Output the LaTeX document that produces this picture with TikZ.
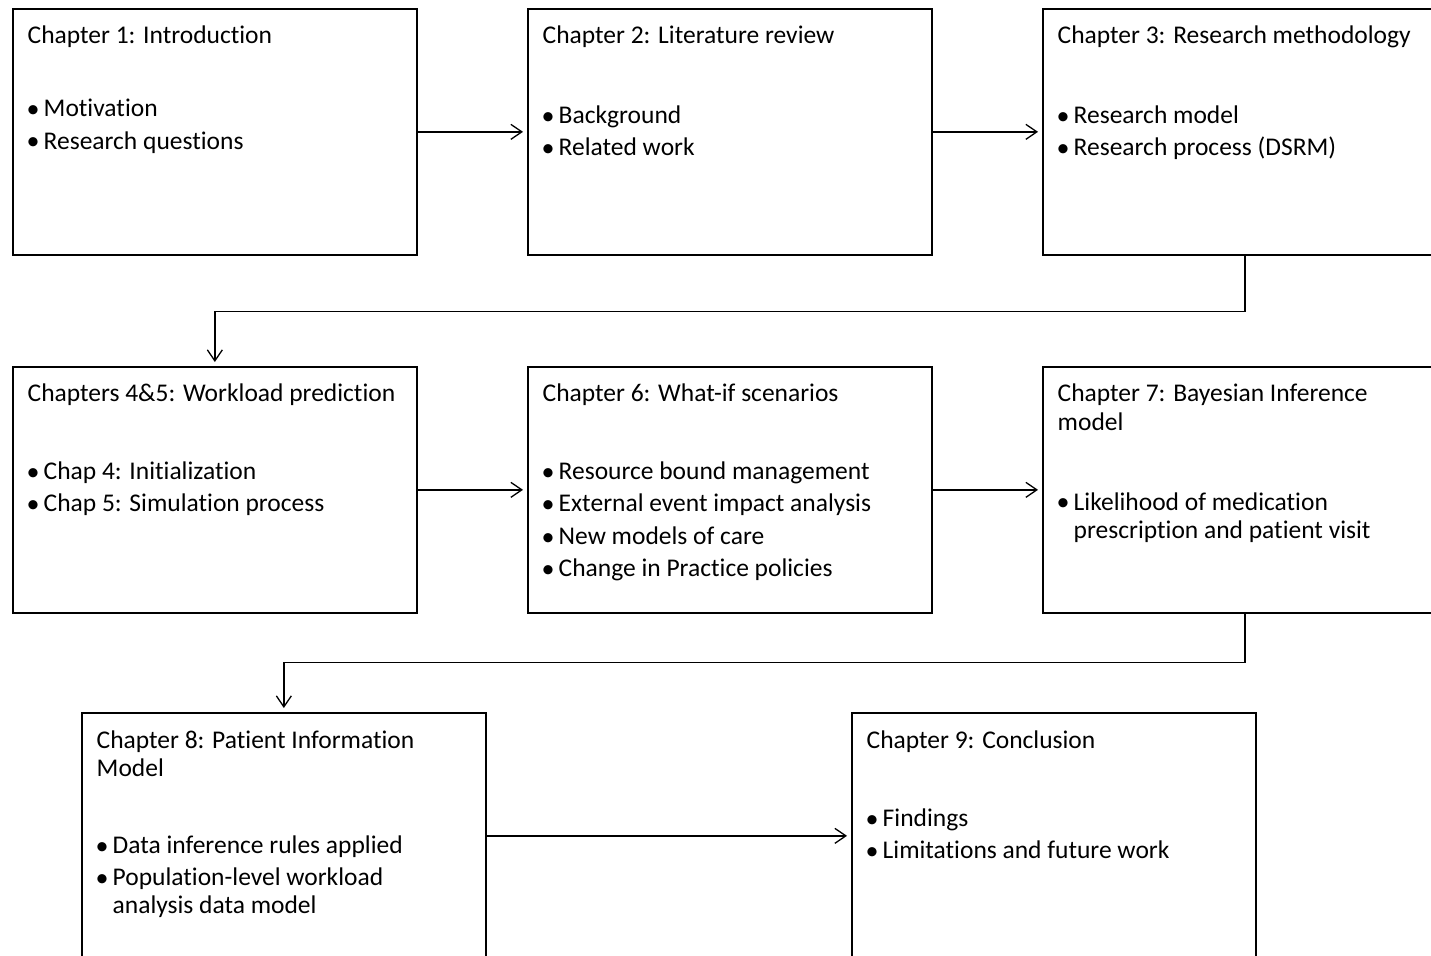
\documentclass[tikz,border=0pt]{standalone}
\usepackage{fontspec}
\setmainfont{Carlito}[Ligatures={NoCommon}]
\usetikzlibrary{arrows.meta}
\newcommand{\itemdot}{{\fontsize{26}{26}\selectfont\textbullet}}
\begin{document}
\begin{tikzpicture}[x=1pt,y=-1pt,
  chbox/.style={draw=black, line width=1.7pt, minimum width=404pt, minimum height=246pt,
    inner sep=0pt, anchor=north west},
  txt/.style={anchor=base west, inner sep=0pt, font=\fontsize{25.5}{30}\selectfont},
  dot/.style={anchor=base west, inner sep=0pt},
  flow/.style={line width=1.3pt, -{Straight Barb[length=11pt,width=15pt,line width=1.3pt]}, shorten >=4pt},
]
\useasboundingbox (0,0) rectangle (1431,955);
\clip (0,0) rectangle (1431,955);
\fill[white] (0,0) rectangle (1431,955);

% chapter boxes
\node[chbox] (b1) at (12,8) {};
\node[chbox] (b2) at (527,8) {};
\node[chbox] (b3) at (1042,8) {};
\node[chbox] (b4) at (12,366) {};
\node[chbox] (b5) at (527,366) {};
\node[chbox] (b6) at (1042,366) {};
\node[chbox] (b8) at (81,712) {};
\node[chbox] (b9) at (851,712) {};

% Chapter 1
\node[txt] (t1) at (27.5,43.5) {Chapter 1: Introduction};
\node[dot] (d1a) at (26.5,117.5) {\itemdot};
\node[txt] (i1a) at (43.5,116.7) {Motivation};
\node[dot] (d1b) at (26.5,149.8) {\itemdot};
\node[txt] (i1b) at (43.5,149) {Research questions};

% Chapter 2
\node[txt] (t2) at (542.5,43.5) {Chapter 2: Literature review};
\node[dot] (d2a) at (541.5,124.1) {\itemdot};
\node[txt] (i2a) at (558.5,123.3) {Background};
\node[dot] (d2b) at (541.5,156.4) {\itemdot};
\node[txt] (i2b) at (558.5,155.6) {Related work};

% Chapter 3
\node[txt] (t3) at (1057.5,43.5) {Chapter 3: Research methodology};
\node[dot] (d3a) at (1056.5,124.1) {\itemdot};
\node[txt] (i3a) at (1073.5,123.3) {Research model};
\node[dot] (d3b) at (1056.5,156.4) {\itemdot};
\node[txt] (i3b) at (1073.5,155.6) {Research process (DSRM)};

% Chapters 4&5
\node[txt] (t4) at (27.5,401.5) {Chapters 4\&5: Workload prediction};
\node[dot] (d4a) at (26.5,480.3) {\itemdot};
\node[txt] (i4a) at (43.5,479.5) {Chap 4: Initialization};
\node[dot] (d4b) at (26.5,512.6) {\itemdot};
\node[txt] (i4b) at (43.5,511.8) {Chap 5: Simulation process};

% Chapter 6
\node[txt] (t5) at (542.5,401.5) {Chapter 6: What-if scenarios};
\node[dot] (d5a) at (541.5,480.3) {\itemdot};
\node[txt] (i5a) at (558.5,479.5) {Resource bound management};
\node[dot] (d5b) at (541.5,512.6) {\itemdot};
\node[txt] (i5b) at (558.5,511.8) {External event impact analysis};
\node[dot] (d5c) at (541.5,545) {\itemdot};
\node[txt] (i5c) at (558.5,544.2) {New models of care};
\node[dot] (d5d) at (541.5,577.1) {\itemdot};
\node[txt] (i5d) at (558.5,576.3) {Change in Practice policies};

% Chapter 7
\node[txt] (t6a) at (1057.5,401.7) {Chapter 7: Bayesian Inference};
\node[txt] (t6b) at (1057.5,430) {model};
\node[dot] (d6a) at (1056.5,510.8) {\itemdot};
\node[txt] (i6a) at (1073.5,510) {Likelihood of medication};
\node[txt] (i6b) at (1073.5,538.3) {prescription and patient visit};

% Chapter 8
\node[txt] (t8a) at (96.5,748.3) {Chapter 8: Patient Information};
\node[txt] (t8b) at (96.5,776.7) {Model};
\node[dot] (d8a) at (95.5,854.1) {\itemdot};
\node[txt] (i8a) at (112.5,853.3) {Data inference rules applied};
\node[dot] (d8b) at (95.5,886.5) {\itemdot};
\node[txt] (i8b) at (112.5,885.7) {Population-level workload};
\node[txt] (i8c) at (112.5,913.3) {analysis data model};

% Chapter 9
\node[txt] (t9) at (866.5,748.3) {Chapter 9: Conclusion};
\node[dot] (d9a) at (865.5,827.5) {\itemdot};
\node[txt] (i9a) at (882.5,826.7) {Findings};
\node[dot] (d9b) at (865.5,859.1) {\itemdot};
\node[txt] (i9b) at (882.5,858.3) {Limitations and future work};

% connectors
\draw[flow] (b1.east) -- (b2.west);
\draw[flow] (b2.east) -- (b3.west);
\draw[flow] (b3.south) -- ++(0,56) -| (b4.north);
\draw[flow] (b4.east) -- (b5.west);
\draw[flow] (b5.east) -- (b6.west);
\draw[flow] (b6.south) -- ++(0,49) -| (b8.north);
\draw[flow] (b8.east) -- (b9.west);
\end{tikzpicture}
\end{document}
